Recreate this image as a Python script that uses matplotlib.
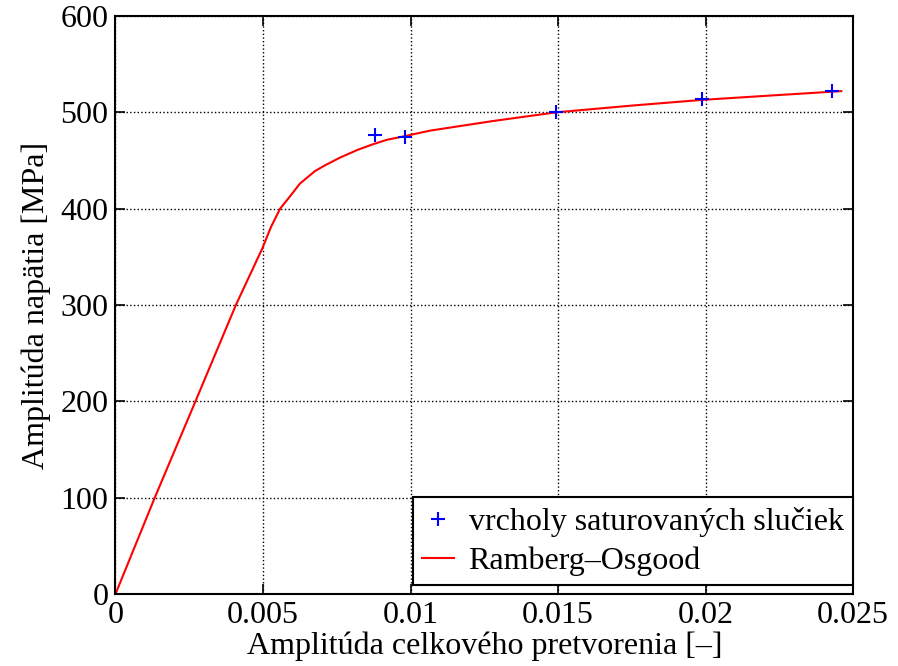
import numpy as np
from matplotlib import pyplot as plt

# peaks of the saturated hysteresis loops
peak_strain = [0.0088, 0.0098, 0.01493, 0.01988, 0.02429]
peak_stress = [476, 474, 500, 514, 522.6]

# Ramberg-Osgood curve
ro_strain = [0, 0.00133, 0.00271, 0.00408, 0.00498, 0.00527, 0.00558, 0.00592,
             0.00625, 0.00676, 0.0071, 0.00761, 0.0082, 0.00874, 0.0092,
             0.00976, 0.01066, 0.0128, 0.01494, 0.0175, 0.01992, 0.0225,
             0.0246]
ro_stress = [0, 100, 200, 300, 359, 381, 400, 413, 426, 439, 445, 453, 461,
             467, 471.5, 475, 481, 491, 500, 507, 513, 518, 522]

xticks = [0, 0.005, 0.01, 0.015, 0.02, 0.025]
xticklabels = ["0", "0.005", "0.01", "0.015", "0.02", "0.025"]
yticks = [0, 100, 200, 300, 400, 500, 600]


def main():
    plt.rcParams["font.family"] = ["Liberation Serif", "DejaVu Serif"]
    plt.rcParams["font.size"] = 23

    fig = plt.figure(figsize=(8.98, 6.66), dpi=100)
    ax = fig.add_axes([0.1286, 0.108, 0.8214, 0.868])

    ax.plot(peak_strain, peak_stress, "+", color="blue", markersize=10,
            markeredgewidth=1.5, label="vrcholy saturovaných slučiek", zorder=3)
    ax.plot(ro_strain, ro_stress, "-", color="red", linewidth=1.5,
            label="Ramberg–Osgood", zorder=2)

    ax.set_xlim(0, 0.025)
    ax.set_ylim(0, 600)
    ax.set_xticks(xticks)
    ax.set_xticklabels(xticklabels)
    ax.set_yticks(yticks)

    ax.grid(True, linestyle=":", color="black", linewidth=1.0)
    ax.tick_params(direction="in", top=True, right=True, length=7, width=1.2,
                   pad=5)
    for s in ax.spines.values():
        s.set_linewidth(1.5)

    ax.set_xlabel("Amplitúda celkového pretvorenia [–]", labelpad=1)
    ax.set_ylabel("Amplitúda napätia [MPa]", labelpad=7)

    leg = ax.legend(loc="lower right", bbox_to_anchor=(1.0, 0.015),
                    borderaxespad=0, numpoints=1, handlelength=1.0,
                    handletextpad=0.45, borderpad=0.3, labelspacing=0.3,
                    fancybox=False, framealpha=1, fontsize=23)
    leg.get_frame().set_edgecolor("black")
    leg.get_frame().set_linewidth(1.5)

    fig.savefig("out.png", dpi=100)


if __name__ == "__main__":
    main()
